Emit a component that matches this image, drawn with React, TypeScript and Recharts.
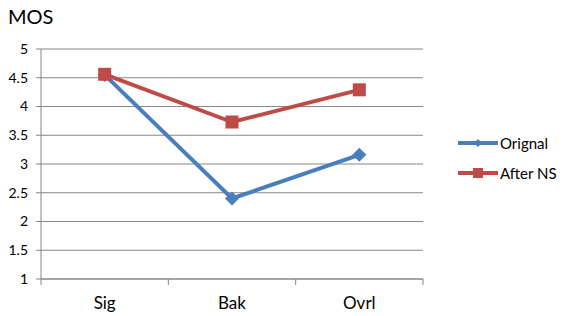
import { CartesianGrid, Line, LineChart, XAxis, YAxis } from "recharts";

const categories = ["Sig", "Bak", "Ovrl"];
const original = [4.55, 2.4, 3.16];
const afterNs = [4.56, 3.73, 4.29];
const yTicks = [1, 1.5, 2, 2.5, 3, 3.5, 4, 4.5, 5];

const data = categories.map((name, i) => ({
  name,
  original: original[i],
  afterNs: afterNs[i],
}));

const BLUE = "#4A7EBB";
const RED = "#BE4B48";
const GRID = "#868686";
const FONT = "Lato, 'Liberation Sans', sans-serif";
const BAND = (423 - 41) / 3;

const Diamond = (props: any) => {
  const { cx, cy } = props;
  if (cx == null || cy == null) return null;
  const r = 7;
  return (
    <path
      d={`M${cx},${cy - r}L${cx + r},${cy}L${cx},${cy + r}L${cx - r},${cy}Z`}
      fill={BLUE}
    />
  );
};

const Square = (props: any) => {
  const { cx, cy } = props;
  if (cx == null || cy == null) return null;
  const s = 13;
  return <rect x={cx - s / 2} y={cy - s / 2} width={s} height={s} fill={RED} />;
};

const CategoryTick = (props: any) => {
  const { x, y, payload, index } = props;
  const left = x - BAND / 2;
  return (
    <g>
      <line x1={left} y1={y - 8} x2={left} y2={y - 2} stroke={GRID} />
      {index === categories.length - 1 && (
        <line x1={x + BAND / 2} y1={y - 8} x2={x + BAND / 2} y2={y - 2} stroke={GRID} />
      )}
      <text x={x} y={y + 22} textAnchor="middle" fontSize={17} fill="#000" fontFamily={FONT}>
        {payload.value}
      </text>
    </g>
  );
};

const LegendBox = () => (
  <div style={{ fontFamily: FONT, fontSize: 15, color: "#000" }}>
    {[
      { label: "Orignal", color: BLUE, marker: "diamond" },
      { label: "After NS", color: RED, marker: "square" },
    ].map((item) => (
      <div key={item.label} style={{ display: "flex", alignItems: "center", height: 30 }}>
        <svg width={43} height={14}>
          <line x1={1} y1={7} x2={41} y2={7} stroke={item.color} strokeWidth={4} />
          {item.marker === "diamond" ? (
            <path d="M21,3L25,7L21,11L17,7Z" fill={item.color} />
          ) : (
            <rect x={16} y={2} width={10} height={10} fill={item.color} />
          )}
        </svg>
        <span>{item.label}</span>
      </div>
    ))}
  </div>
);

export default function App() {
  return (
    <div style={{ position: "absolute", left: 0, top: 0, width: 570, height: 316, background: "#fff" }}>
      <div style={{ position: "absolute", left: 8, top: 4, fontFamily: FONT, fontSize: 20, color: "#000" }}>
        MOS
      </div>
      <div style={{ position: "absolute", left: 457, top: 128 }}>
        <LegendBox />
      </div>
      <LineChart
        width={570}
        height={316}
        data={data}
        margin={{ top: 49, right: 147, bottom: 0, left: 0 }}
      >
        <CartesianGrid horizontal vertical={false} stroke={GRID} strokeWidth={1} />
        <XAxis
          dataKey="name"
          scale="band"
          height={37}
          axisLine={{ stroke: GRID }}
          tickLine={false}
          tick={<CategoryTick />}
          interval={0}
        />
        <YAxis
          width={41}
          domain={[1, 5]}
          ticks={yTicks}
          axisLine={{ stroke: GRID }}
          tickLine={{ stroke: GRID }}
          tickSize={5}
          tickMargin={8}
          tick={{ fill: "#000", fontSize: 14, fontFamily: FONT }}
          tickFormatter={(v: number) => String(v)}
          interval={0}
        />
        <Line
          type="linear"
          dataKey="original"
          stroke={BLUE}
          strokeWidth={4}
          dot={<Diamond />}
          activeDot={false}
          isAnimationActive={false}
        />
        <Line
          type="linear"
          dataKey="afterNs"
          stroke={RED}
          strokeWidth={4}
          dot={<Square />}
          activeDot={false}
          isAnimationActive={false}
        />
      </LineChart>
    </div>
  );
}
